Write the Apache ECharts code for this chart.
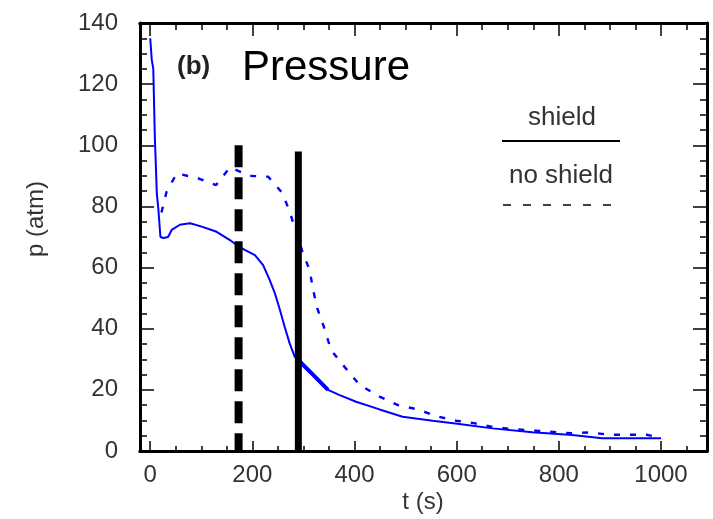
<!DOCTYPE html>
<html>
<head>
<meta charset="utf-8">
<script src="https://cdn.jsdelivr.net/npm/echarts@6/dist/echarts.min.js"></script>
<style>
html,body{margin:0;padding:0;background:#fff;}
#chart{width:713px;height:519px;}
</style>
</head>
<body>
<div id="chart"></div>
<script>
// ---- data ----
const shieldT = [0, 3, 6, 9, 13, 16, 20, 26, 35, 42, 58, 78, 101, 130, 156, 169, 185, 205, 221, 234, 244, 254, 263, 273, 283, 290, 296, 319, 348, 371, 403, 449, 494, 553, 605, 670, 748, 826, 885, 940, 1000];
const shieldP = [135, 128, 125, 103, 84, 79, 70, 69.7, 70, 72.3, 74, 74.5, 73.4, 71.7, 69, 67.4, 65.8, 64.1, 60.8, 55.9, 51.6, 46.1, 40.7, 35.2, 30.8, 30, 28.7, 24.9, 20, 18.3, 16.1, 13.6, 11.2, 9.9, 8.8, 7.4, 6.1, 5.2, 4.2, 4.2, 4.2];
const boldFrom = 290, boldTo = 350;

const noShieldT = [22, 32, 52, 94, 129, 156, 195, 231, 259, 273, 299, 312, 319, 327, 341, 354, 380, 410, 449, 485, 524, 560, 599, 634, 673, 709, 760, 823, 862, 898, 937, 973, 990];
const noShieldP = [78, 84.8, 90.8, 89.2, 87, 92.8, 90, 89.7, 84.3, 78.3, 64.7, 59.2, 52.7, 46.7, 40.1, 33, 27.6, 21.6, 17.8, 15, 13.6, 11.4, 9.9, 9.1, 7.8, 7.2, 6.6, 5.8, 6.1, 5.3, 5.3, 5.3, 4.6];

const markerT = [173, 290];
const markerTop = [100, 98];
const markerBottom = [0, 0];

const xMin = -20, xMax = 1090;
const yMin = 0, yMax = 140, yStep = 20;
const xMajorTicks = [0, 200, 400, 600, 800, 1000];
const xMinorTicks = [50, 100, 150, 250, 300, 350, 450, 500, 550, 650, 700, 750, 850, 900, 950, 1050];

const titleTag = '(b)';
const titleText = 'Pressure';
const xName = 't (s)';
const yName = 'p (atm)';
const legendSolid = 'shield';
const legendDashed = 'no shield';

// ---- build ----
const zip = (a, b) => a.map((v, i) => [v, b[i]]);
const shieldData = zip(shieldT, shieldP);
const shieldBold = shieldData.filter(d => d[0] >= boldFrom && d[0] <= boldTo);
const noShieldData = zip(noShieldT, noShieldP);

const FONT = '"Liberation Sans", Arial, sans-serif';
const BLUE = '#0000ff';
const plain = v => String(v);

function xAxisDef(position, ticks, len, labels) {
  return {
    type: 'value', position: position, min: xMin, max: xMax,
    axisLine: { show: true, onZero: false, lineStyle: { color: '#000', width: 3 } },
    axisTick: { show: true, inside: true, length: len, customValues: ticks, lineStyle: { color: '#000', width: 1.5 } },
    axisLabel: labels ? { show: true, customValues: ticks, formatter: plain, margin: 12, color: '#333', fontSize: 24, fontFamily: FONT } : { show: false, customValues: ticks },
    splitLine: { show: false }
  };
}
function yAxisDef(position, labels) {
  return {
    type: 'value', position: position, min: yMin, max: yMax, interval: yStep,
    axisLine: { show: true, onZero: false, lineStyle: { color: '#000', width: 3 } },
    axisTick: { show: true, inside: true, length: 14, lineStyle: { color: '#000', width: 1.5 } },
    minorTick: { show: true, splitNumber: 4, length: 7, lineStyle: { color: '#000', width: 1.5 } },
    axisLabel: { show: labels, formatter: plain, margin: 22, color: '#333', fontSize: 24, fontFamily: FONT },
    splitLine: { show: false }, minorSplitLine: { show: false }
  };
}

const option = {
  animation: false,
  backgroundColor: '#fff',
  grid: { left: 140, right: 6, top: 23, bottom: 68, containLabel: false },
  xAxis: [
    xAxisDef('bottom', xMajorTicks, 10, true),
    xAxisDef('bottom', xMinorTicks, 5, false),
    xAxisDef('top', xMajorTicks, 13, false),
    xAxisDef('top', xMinorTicks, 7, false)
  ],
  yAxis: [yAxisDef('left', true), yAxisDef('right', false)],
  series: [
    { name: legendSolid, type: 'line', data: shieldData, showSymbol: false, symbol: 'none',
      lineStyle: { color: BLUE, width: 2 }, z: 3 },
    { name: legendSolid + '-bold', type: 'line', data: shieldBold, symbol: 'none',
      lineStyle: { color: BLUE, width: 4 }, z: 3 },
    { name: legendDashed, type: 'line', data: noShieldData, symbol: 'none',
      lineStyle: { color: BLUE, width: 2.4, type: [6, 10] }, z: 3 },
    { name: 'marker-dashed', type: 'line', data: [[markerT[0], markerTop[0]], [markerT[0], markerBottom[0]]], symbol: 'none',
      lineStyle: { color: '#000', width: 8, type: [22, 10] }, z: 4 },
    { name: 'marker-solid', type: 'line', data: [[markerT[1], markerTop[1]], [markerT[1], markerBottom[1]]], symbol: 'none',
      lineStyle: { color: '#000', width: 7 }, z: 4 }
  ],
  graphic: [
    { type: 'text', left: 177, top: 54, style: { text: titleTag, font: 'bold 26px ' + FONT, fill: '#222' } },
    { type: 'text', left: 242, top: 47, style: { text: titleText, font: '42px ' + FONT, fill: '#000' } },
    { type: 'text', x: 562, y: 118, style: { text: legendSolid, font: '26px ' + FONT, fill: '#333', align: 'center', verticalAlign: 'middle' } },
    { type: 'line', shape: { x1: 502, y1: 141, x2: 620, y2: 141 }, style: { stroke: '#000', lineWidth: 2 } },
    { type: 'text', x: 561, y: 176, style: { text: legendDashed, font: '26px ' + FONT, fill: '#333', align: 'center', verticalAlign: 'middle' } },
    { type: 'line', shape: { x1: 503, y1: 205, x2: 622, y2: 205 }, style: { stroke: '#000', lineWidth: 1.5, lineDash: [8, 12] } },
    { type: 'text', x: 36, y: 219, rotation: Math.PI / 2, style: { text: yName, font: '24px ' + FONT, fill: '#333', align: 'center', verticalAlign: 'middle' } },
    { type: 'text', x: 423, y: 502, style: { text: xName, font: '24px ' + FONT, fill: '#333', align: 'center', verticalAlign: 'middle' } }
  ]
};

const chart = echarts.init(document.getElementById('chart'), null, { renderer: 'canvas' });
chart.setOption(option);
</script>
</body>
</html>
